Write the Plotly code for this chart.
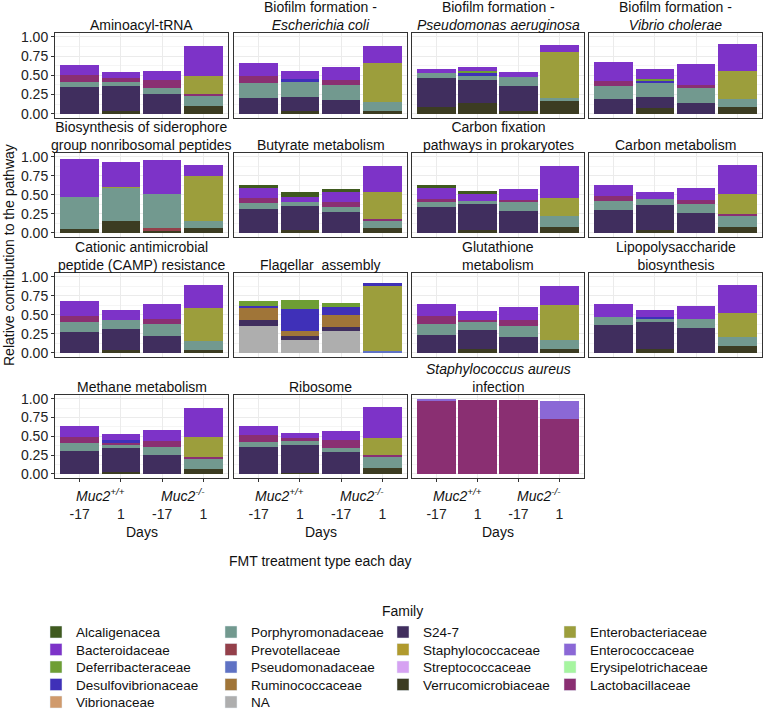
import plotly.graph_objects as go

# ---------------- data ----------------
days = ["-17", "1", "-17", "1"]
genotype_labels = ["<i>Muc2<sup>+/+</sup></i>", "<i>Muc2<sup>-/-</sup></i>"]

families = ["Alcaligenacea", "Bacteroidaceae", "Deferribacteraceae", "Desulfovibrionaceae", "Vibrionaceae",
            "Porphyromonadaceae", "Prevotellaceae", "Pseudomonadaceae", "Ruminococcaceae", "NA",
            "S24-7", "Staphylococcaceae", "Streptococcaceae", "Verrucomicrobiaceae",
            "Enterobacteriaceae", "Enterococcaceae", "Erysipelotrichaceae", "Lactobacillaceae"]
legend_column = [1, 1, 1, 1, 1, 2, 2, 2, 2, 2, 3, 3, 3, 3, 4, 4, 4, 4]
legend_row = [1, 2, 3, 4, 5, 1, 2, 3, 4, 5, 1, 2, 3, 4, 1, 2, 3, 4]

# bottom -> top stacking order
stack_order = ["NA", "Vibrionaceae", "Verrucomicrobiaceae", "Streptococcaceae", "Staphylococcaceae",
               "S24-7", "Ruminococcaceae", "Pseudomonadaceae", "Prevotellaceae", "Porphyromonadaceae",
               "Lactobacillaceae", "Erysipelotrichaceae", "Enterococcaceae", "Enterobacteriaceae",
               "Desulfovibrionaceae", "Deferribacteraceae", "Bacteroidaceae", "Alcaligenacea"]

aminoacyl_trna = {
    "Verrucomicrobiaceae": [0, 0.035, 0, 0.10],
    "S24-7": [0.345, 0.33, 0.26, 0],
    "Porphyromonadaceae": [0.065, 0.05, 0.07, 0.135],
    "Lactobacillaceae": [0.10, 0.045, 0.11, 0.02],
    "Enterobacteriaceae": [0, 0, 0, 0.24],
    "Bacteroidaceae": [0.125, 0.08, 0.12, 0.38],
}
biofilm_ecoli = {
    "Verrucomicrobiaceae": [0, 0.04, 0, 0.03],
    "S24-7": [0.21, 0.18, 0.18, 0],
    "Porphyromonadaceae": [0.19, 0.19, 0.195, 0.12],
    "Lactobacillaceae": [0.085, 0, 0.07, 0],
    "Enterobacteriaceae": [0, 0, 0, 0.51],
    "Desulfovibrionaceae": [0, 0.038, 0, 0],
    "Bacteroidaceae": [0.17, 0.108, 0.16, 0.22],
}
biofilm_pseudomonas = {
    "Verrucomicrobiaceae": [0.09, 0.14, 0.04, 0.16],
    "S24-7": [0.37, 0.30, 0.326, 0],
    "Porphyromonadaceae": [0.07, 0.05, 0.108, 0.047],
    "Enterobacteriaceae": [0, 0, 0, 0.59],
    "Desulfovibrionaceae": [0, 0.045, 0, 0],
    "Deferribacteraceae": [0, 0.025, 0, 0],
    "Bacteroidaceae": [0.05, 0.048, 0.065, 0.093],
}
biofilm_vibrio = {
    "Verrucomicrobiaceae": [0, 0.078, 0, 0.086],
    "S24-7": [0.19, 0.138, 0.138, 0],
    "Porphyromonadaceae": [0.172, 0.189, 0.194, 0.104],
    "Lactobacillaceae": [0.06, 0, 0.043, 0],
    "Enterobacteriaceae": [0, 0, 0, 0.362],
    "Desulfovibrionaceae": [0, 0.026, 0, 0],
    "Deferribacteraceae": [0, 0.022, 0, 0],
    "Bacteroidaceae": [0.255, 0.125, 0.272, 0.353],
}
siderophore = {
    "Verrucomicrobiaceae": [0.047, 0.155, 0.026, 0.064],
    "Prevotellaceae": [0, 0, 0.038, 0],
    "Porphyromonadaceae": [0.43, 0.437, 0.442, 0.086],
    "Enterobacteriaceae": [0, 0.017, 0, 0.592],
    "Bacteroidaceae": [0.49, 0.318, 0.451, 0.151],
}
butyrate = {
    "Verrucomicrobiaceae": [0, 0.034, 0, 0.064],
    "S24-7": [0.313, 0.322, 0.27, 0],
    "Porphyromonadaceae": [0.073, 0.043, 0.065, 0.10],
    "Lactobacillaceae": [0.069, 0, 0.064, 0.017],
    "Enterobacteriaceae": [0, 0, 0, 0.35],
    "Bacteroidaceae": [0.129, 0.077, 0.137, 0.343],
    "Alcaligenacea": [0.051, 0.06, 0.043, 0],
}
carbon_fixation = {
    "Verrucomicrobiaceae": [0, 0.034, 0, 0.077],
    "S24-7": [0.335, 0.339, 0.288, 0],
    "Porphyromonadaceae": [0.073, 0.048, 0.112, 0.15],
    "Lactobacillaceae": [0.043, 0, 0.029, 0],
    "Enterobacteriaceae": [0, 0, 0, 0.232],
    "Bacteroidaceae": [0.134, 0.085, 0.146, 0.425],
    "Alcaligenacea": [0.043, 0.043, 0, 0],
}
carbon_metabolism = {
    "Verrucomicrobiaceae": [0, 0.034, 0, 0.077],
    "S24-7": [0.305, 0.327, 0.258, 0],
    "Porphyromonadaceae": [0.116, 0.081, 0.12, 0.15],
    "Lactobacillaceae": [0.064, 0, 0.06, 0.022],
    "Enterobacteriaceae": [0, 0, 0, 0.257],
    "Bacteroidaceae": [0.15, 0.099, 0.146, 0.387],
}
camp_resistance = {
    "Verrucomicrobiaceae": [0, 0.034, 0, 0.043],
    "S24-7": [0.27, 0.275, 0.227, 0],
    "Porphyromonadaceae": [0.138, 0.124, 0.151, 0.107],
    "Lactobacillaceae": [0.077, 0, 0.073, 0],
    "Enterobacteriaceae": [0, 0, 0, 0.442],
    "Bacteroidaceae": [0.193, 0.125, 0.193, 0.301],
}
flagellar = {
    "NA": [0.356, 0.172, 0.292, 0],
    "S24-7": [0.077, 0.055, 0.051, 0],
    "Ruminococcaceae": [0.151, 0.056, 0.155, 0],
    "Pseudomonadaceae": [0, 0, 0, 0.021],
    "Enterobacteriaceae": [0, 0, 0, 0.859],
    "Desulfovibrionaceae": [0.03, 0.296, 0.107, 0.034],
    "Deferribacteraceae": [0.073, 0.121, 0.056, 0],
}
glutathione = {
    "Verrucomicrobiaceae": [0, 0.047, 0, 0.056],
    "S24-7": [0.24, 0.253, 0.206, 0],
    "Porphyromonadaceae": [0.138, 0.099, 0.142, 0.107],
    "Lactobacillaceae": [0.107, 0.034, 0.085, 0],
    "Enterobacteriaceae": [0, 0, 0, 0.464],
    "Bacteroidaceae": [0.163, 0.112, 0.164, 0.253],
}
lps = {
    "Verrucomicrobiaceae": [0, 0.047, 0, 0.086],
    "S24-7": [0.369, 0.352, 0.326, 0],
    "Porphyromonadaceae": [0.107, 0.056, 0.116, 0.12],
    "Enterobacteriaceae": [0, 0, 0, 0.322],
    "Desulfovibrionaceae": [0, 0.021, 0, 0],
    "Bacteroidaceae": [0.172, 0.091, 0.176, 0.36],
}
methane = {
    "Verrucomicrobiaceae": [0, 0.022, 0, 0.061],
    "S24-7": [0.307, 0.316, 0.254, 0],
    "Porphyromonadaceae": [0.101, 0.048, 0.11, 0.14],
    "Lactobacillaceae": [0.088, 0.022, 0.075, 0.018],
    "Enterobacteriaceae": [0, 0, 0, 0.267],
    "Desulfovibrionaceae": [0, 0.044, 0, 0],
    "Bacteroidaceae": [0.14, 0.074, 0.144, 0.386],
}
ribosome = {
    "Verrucomicrobiaceae": [0, 0.013, 0, 0.079],
    "S24-7": [0.36, 0.373, 0.285, 0],
    "Porphyromonadaceae": [0.07, 0.048, 0.066, 0.153],
    "Lactobacillaceae": [0.083, 0.04, 0.101, 0.018],
    "Enterobacteriaceae": [0, 0, 0, 0.232],
    "Bacteroidaceae": [0.123, 0.074, 0.118, 0.408],
}
staph_infection = {
    "Lactobacillaceae": [0.975, 0.987, 0.982, 0.724],
    "Enterococcaceae": [0.02, 0, 0, 0.245],
}

panel_titles = [
    "Aminoacyl-tRNA",
    "Biofilm formation -<br><i>Escherichia coli</i>",
    "Biofilm formation -<br><i>Pseudomonas aeruginosa</i>",
    "Biofilm formation -<br><i>Vibrio cholerae</i>",
    "Biosynthesis of siderophore<br>group nonribosomal peptides",
    "Butyrate metabolism",
    "Carbon fixation<br>pathways in prokaryotes",
    "Carbon metabolism",
    "Cationic antimicrobial<br>peptide (CAMP) resistance",
    "Flagellar  assembly",
    "Glutathione<br>metabolism",
    "Lipopolysaccharide<br>biosynthesis",
    "Methane metabolism",
    "Ribosome",
    "<i>Staphylococcus aureus</i><br>infection",
]
panel_data = [aminoacyl_trna, biofilm_ecoli, biofilm_pseudomonas, biofilm_vibrio,
              siderophore, butyrate, carbon_fixation, carbon_metabolism,
              camp_resistance, flagellar, glutathione, lps,
              methane, ribosome, staph_infection]

# ---------------- style ----------------
colors = {
    "Alcaligenacea": "#3F5A1F", "Bacteroidaceae": "#7D33C8", "Deferribacteraceae": "#6E9E34",
    "Desulfovibrionaceae": "#3F30B8", "Vibrionaceae": "#D09A6C", "Porphyromonadaceae": "#72998F",
    "Prevotellaceae": "#94404A", "Pseudomonadaceae": "#5F72C4", "Ruminococcaceae": "#A07538",
    "NA": "#AEAEAE", "S24-7": "#402E5E", "Staphylococcaceae": "#B09A2E",
    "Streptococcaceae": "#D6A2F2", "Verrucomicrobiaceae": "#3C3C22", "Enterobacteriaceae": "#9C9E3C",
    "Enterococcaceae": "#8B68D6", "Erysipelotrichaceae": "#A6F5A0", "Lactobacillaceae": "#8A2F72",
}
FONT = "Liberation Sans, Arial, sans-serif"
W, H = 765, 711
cols_px = [(55, 228), (234, 407), (412, 584), (589, 762)]
rows_px = [(33, 118), (153, 237), (273, 357), (395, 478)]
legend_col_left_px = [36, 211, 383, 550]
legend_row_center_px = [632, 649.5, 667, 684.5, 702]
LEGEND_FONT = 13.5
legend_item_h = max(LEGEND_FONT * 1.3, 16) + 3
legend_top_offset = 5 + legend_item_h / 2


def px_x(v):
    return v / W


def px_y(v):
    return 1 - v / H


fig = go.Figure()
xpos = [1, 2, 3, 4]


def axname(i):
    return "" if i == 0 else str(i + 1)


def legend_key(idx):
    return "legend" if idx == 0 else "legend%d" % (idx + 1)


# one legend entry per family, each in its own small legend box
legends = {}
for idx, fam in enumerate(families):
    key = legend_key(idx)
    fig.add_trace(go.Bar(x=[None], y=[None], name=fam, marker_color=colors[fam],
                         legend=key, legendgroup=fam, showlegend=True, xaxis="x", yaxis="y"))
    lx = legend_col_left_px[legend_column[idx] - 1]
    ly = legend_row_center_px[legend_row[idx] - 1] - legend_top_offset
    legends[key] = dict(x=px_x(lx), y=px_y(ly), xanchor="left", yanchor="top",
                        bgcolor="rgba(0,0,0,0)", tracegroupgap=0,
                        font=dict(size=LEGEND_FONT, color="#111111", family=FONT),
                        itemclick=False, itemdoubleclick=False)

for fam in stack_order:
    for i, data in enumerate(panel_data):
        if fam in data:
            fig.add_trace(go.Bar(x=xpos, y=data[fam], name=fam, marker_color=colors[fam],
                                 marker_line_width=0, width=0.94, legendgroup=fam,
                                 showlegend=False, xaxis="x" + axname(i), yaxis="y" + axname(i),
                                 hovertemplate=fam + ": %{y:.3f}<extra></extra>"))

annotations = []
layout_axes = {}
for i, title in enumerate(panel_titles):
    r, c = divmod(i, 4)
    x0, x1 = cols_px[c]
    y0, y1 = rows_px[r]
    n = axname(i)
    layout_axes["xaxis" + n] = dict(
        domain=[px_x(x0), px_x(x1)], anchor="y" + n, range=[0.4, 4.6],
        tickvals=xpos, ticktext=days, showticklabels=(r == 3),
        ticks="outside" if r == 3 else "", ticklen=3, tickcolor="#333333",
        ticklabelstandoff=20,
        showgrid=True, gridcolor="#EBEBEB", gridwidth=1, zeroline=False,
        showline=True, mirror=True, linecolor="#333333", linewidth=1,
        tickfont=dict(size=14, color="#222222", family=FONT), fixedrange=True)
    layout_axes["yaxis" + n] = dict(
        domain=[px_y(y1), px_y(y0)], anchor="x" + n, range=[-0.055, 1.05],
        tickvals=[0, 0.25, 0.5, 0.75, 1.0], ticktext=["0.00", "0.25", "0.50", "0.75", "1.00"],
        showticklabels=(c == 0), ticks="outside" if c == 0 else "", ticklen=3, tickcolor="#333333",
        showgrid=True, gridcolor="#EBEBEB", gridwidth=1, zeroline=False,
        minor=dict(tickvals=[0.125, 0.375, 0.625, 0.875], showgrid=True, gridcolor="#F5F5F5"),
        showline=True, mirror=True, linecolor="#333333", linewidth=1,
        tickfont=dict(size=14, color="#222222", family=FONT), fixedrange=True)
    annotations.append(dict(text=title, x=px_x((x0 + x1) / 2), y=px_y(y0), xref="paper", yref="paper",
                            xanchor="center", yanchor="bottom", showarrow=False, yshift=-2,
                            font=dict(size=14, color="#111111", family=FONT)))
    if r == 3:
        for k, lab in enumerate(genotype_labels):
            annotations.append(dict(text=lab, x=1.5 + 2 * k, y=px_y(495), xref="x" + n, yref="paper",
                                    xanchor="center", yanchor="middle", showarrow=False,
                                    font=dict(size=14, color="#111111", family=FONT)))
        annotations.append(dict(text="Days", x=2.5, y=px_y(532), xref="x" + n, yref="paper",
                                xanchor="center", yanchor="middle", showarrow=False,
                                font=dict(size=14, color="#111111", family=FONT)))

annotations.append(dict(text="FMT treatment type each day", x=px_x(320), y=px_y(561), xref="paper",
                        yref="paper", xanchor="center", yanchor="middle", showarrow=False,
                        font=dict(size=14, color="#111111", family=FONT)))
annotations.append(dict(text="Family", x=px_x(402), y=px_y(611), xref="paper", yref="paper",
                        xanchor="center", yanchor="middle", showarrow=False,
                        font=dict(size=14, color="#111111", family=FONT)))
annotations.append(dict(text="Relative contribution to the pathway", x=px_x(9), y=px_y(255),
                        xref="paper", yref="paper", xanchor="center", yanchor="middle",
                        textangle=-90, showarrow=False,
                        font=dict(size=14, color="#111111", family=FONT)))

fig.update_layout(
    width=W, height=H, margin=dict(l=0, r=0, t=0, b=0, autoexpand=False),
    barmode="stack", bargap=0, plot_bgcolor="white", paper_bgcolor="white",
    font=dict(family=FONT, size=14, color="#111111"),
    annotations=annotations, **layout_axes, **legends,
)

fig.write_html("out.html", config={"displayModeBar": False},
               post_script="document.body.style.margin='0px';")
